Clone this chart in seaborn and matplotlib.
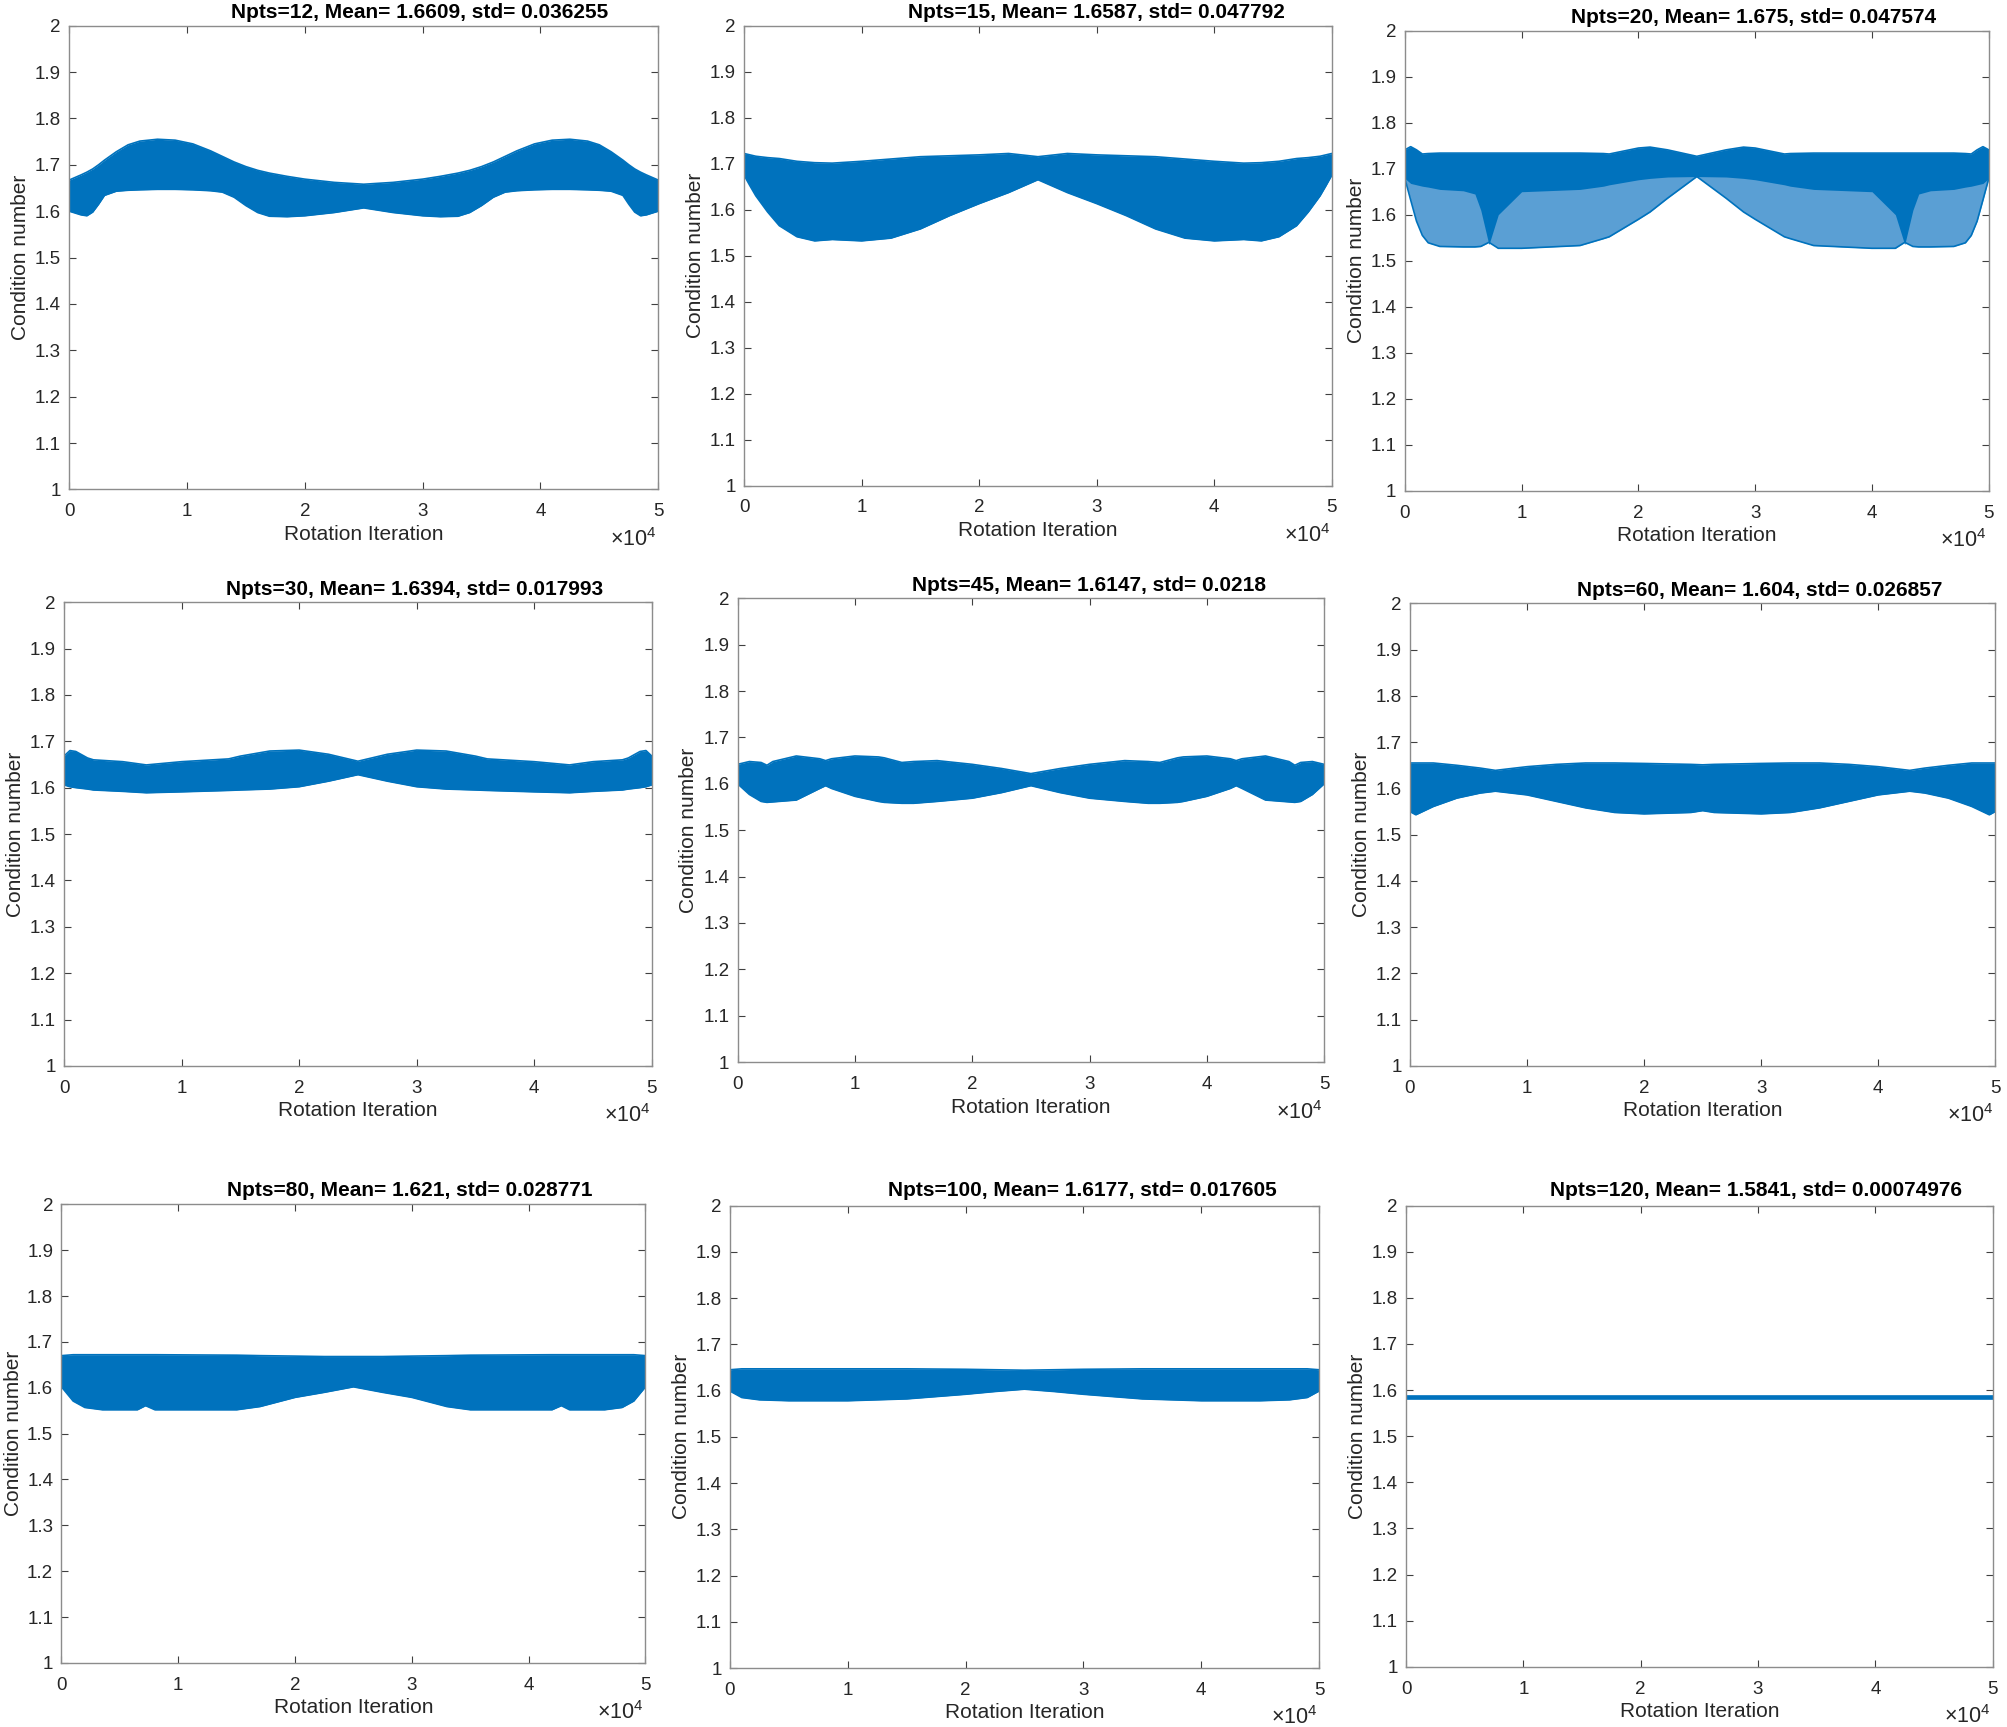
import numpy as np
import pandas as pd
import matplotlib
matplotlib.use("Agg")
import matplotlib.pyplot as plt
import seaborn as sns

# ---- data ---------------------------------------------------------------
npts = [12, 15, 20, 30, 45, 60, 80, 100, 120]
means = ["1.6609", "1.6587", "1.675", "1.6394", "1.6147", "1.604", "1.621", "1.6177", "1.5841"]
stds = ["0.036255", "0.047792", "0.047574", "0.017993", "0.0218", "0.026857",
        "0.028771", "0.017605", "0.00074976"]

# envelope (upper / lower) of the fast oscillating condition number trace
iter_12 = [0, 1000, 1500, 2000, 2500, 3000, 4000, 5000, 6000, 7500, 9000, 10500, 12000, 13000,
           14000, 15000, 16000, 17000, 18500, 20000, 22500, 25000, 27500, 30000, 31500, 33000,
           34000, 35000, 36000, 37000, 38000, 39500, 41000, 42500, 44000, 45000, 46000, 47000,
           47500, 48000, 48500, 49000, 50000]
upper_12 = [1.667, 1.678, 1.684, 1.691, 1.700, 1.710, 1.728, 1.743, 1.751, 1.755, 1.753, 1.745,
            1.730, 1.718, 1.706, 1.696, 1.688, 1.682, 1.675, 1.669, 1.662, 1.658, 1.662, 1.669,
            1.675, 1.682, 1.688, 1.696, 1.706, 1.718, 1.730, 1.745, 1.753, 1.755, 1.751, 1.743,
            1.728, 1.710, 1.700, 1.691, 1.684, 1.678, 1.667]
lower_12 = [1.600, 1.592, 1.590, 1.598, 1.615, 1.634, 1.643, 1.645, 1.646, 1.647, 1.647, 1.646,
            1.644, 1.641, 1.630, 1.612, 1.597, 1.589, 1.588, 1.590, 1.597, 1.607, 1.597, 1.590,
            1.588, 1.589, 1.597, 1.612, 1.630, 1.641, 1.644, 1.646, 1.647, 1.647, 1.646, 1.645,
            1.643, 1.634, 1.615, 1.598, 1.590, 1.592, 1.600]

iter_15 = [0, 500, 1000, 2000, 3000, 4500, 6000, 7500, 10000, 12500, 15000, 17500, 20000, 22500,
           25000, 27500, 30000, 32500, 35000, 37500, 40000, 42500, 44000, 45500, 47000, 48000,
           49000, 49500, 50000]
upper_15 = [1.722, 1.719, 1.716, 1.713, 1.711, 1.705, 1.702, 1.701, 1.705, 1.710, 1.715, 1.717,
            1.719, 1.722, 1.715, 1.722, 1.719, 1.717, 1.715, 1.710, 1.705, 1.701, 1.702, 1.705,
            1.711, 1.713, 1.716, 1.719, 1.722]
lower_15 = [1.675, 1.652, 1.630, 1.595, 1.565, 1.541, 1.532, 1.535, 1.532, 1.538, 1.558, 1.587,
            1.613, 1.637, 1.665, 1.637, 1.613, 1.587, 1.558, 1.538, 1.532, 1.535, 1.532, 1.541,
            1.565, 1.595, 1.630, 1.652, 1.675]

iter_20 = [0, 500, 1000, 1500, 2000, 3000, 5000, 6000, 6500, 7200, 8000, 10000, 15000, 17000,
           17500, 20000, 21000, 22500, 25000, 27500, 29000, 30000, 32500, 33000, 35000, 40000,
           42000, 42800, 43500, 44000, 45000, 47000, 48000, 48500, 49000, 49500, 50000]
upper_20 = [1.741, 1.748, 1.741, 1.732, 1.733, 1.734, 1.734, 1.734, 1.734, 1.734, 1.734, 1.734,
            1.734, 1.733, 1.732, 1.745, 1.747, 1.741, 1.727, 1.741, 1.747, 1.745, 1.732, 1.733,
            1.734, 1.734, 1.734, 1.734, 1.734, 1.734, 1.734, 1.734, 1.733, 1.732, 1.741, 1.748,
            1.741]
lower_20 = [1.679, 1.632, 1.586, 1.555, 1.539, 1.531, 1.530, 1.530, 1.531, 1.540, 1.527, 1.527,
            1.533, 1.548, 1.552, 1.590, 1.606, 1.636, 1.683, 1.636, 1.606, 1.590, 1.552, 1.548,
            1.533, 1.527, 1.527, 1.540, 1.531, 1.530, 1.530, 1.531, 1.539, 1.555, 1.586, 1.632,
            1.679]
# bottom of the solid part; below it the trace is sparse
dense_lo_20 = [1.679, 1.668, 1.665, 1.662, 1.660, 1.655, 1.652, 1.645, 1.610, 1.535, 1.600,
               1.650, 1.655, 1.662, 1.665, 1.676, 1.679, 1.682, 1.683, 1.682, 1.679, 1.676,
               1.665, 1.662, 1.655, 1.650, 1.600, 1.535, 1.610, 1.645, 1.652, 1.655, 1.660,
               1.662, 1.665, 1.668, 1.679]

iter_30 = [0, 500, 1000, 2000, 2500, 5000, 7000, 10000, 14000, 15000, 17500, 20000, 22500, 25000,
           27500, 30000, 32500, 35000, 36000, 40000, 43000, 45000, 47500, 48000, 49000, 49500,
           50000]
upper_30 = [1.668, 1.680, 1.678, 1.664, 1.660, 1.656, 1.649, 1.656, 1.662, 1.668, 1.679, 1.681,
            1.672, 1.657, 1.672, 1.681, 1.679, 1.668, 1.662, 1.656, 1.649, 1.656, 1.660, 1.664,
            1.678, 1.680, 1.668]
lower_30 = [1.606, 1.602, 1.600, 1.597, 1.595, 1.592, 1.589, 1.591, 1.594, 1.595, 1.597, 1.602,
            1.614, 1.628, 1.614, 1.602, 1.597, 1.595, 1.594, 1.591, 1.589, 1.592, 1.595, 1.597,
            1.600, 1.602, 1.606]

iter_45 = [0, 1000, 2000, 2500, 3000, 5000, 7000, 7500, 8000, 10000, 12000, 12500, 14000, 15000,
           17000, 20000, 22500, 25000, 27500, 30000, 33000, 35000, 36000, 37500, 38000, 40000,
           42000, 42500, 43000, 45000, 47000, 47500, 48000, 49000, 50000]
upper_45 = [1.642, 1.648, 1.646, 1.640, 1.648, 1.660, 1.654, 1.650, 1.654, 1.660, 1.658, 1.656,
            1.646, 1.648, 1.650, 1.642, 1.633, 1.622, 1.633, 1.642, 1.650, 1.648, 1.646, 1.656,
            1.658, 1.660, 1.654, 1.650, 1.654, 1.660, 1.648, 1.640, 1.646, 1.648, 1.642]
lower_45 = [1.600, 1.577, 1.562, 1.560, 1.561, 1.565, 1.590, 1.596, 1.590, 1.573, 1.562, 1.560,
            1.558, 1.558, 1.562, 1.569, 1.581, 1.596, 1.581, 1.569, 1.562, 1.558, 1.558, 1.560,
            1.562, 1.573, 1.590, 1.596, 1.590, 1.565, 1.561, 1.560, 1.562, 1.577, 1.600]

iter_60 = [0, 500, 2000, 4000, 6000, 7300, 10000, 12500, 15000, 17500, 20000, 24000, 25000,
           26000, 30000, 32500, 35000, 37500, 40000, 42700, 44000, 46000, 48000, 49500, 50000]
upper_60 = [1.655, 1.655, 1.655, 1.650, 1.644, 1.639, 1.647, 1.652, 1.655, 1.655, 1.654, 1.652,
            1.651, 1.652, 1.654, 1.655, 1.655, 1.652, 1.647, 1.639, 1.644, 1.650, 1.655, 1.655,
            1.655]
lower_60 = [1.550, 1.543, 1.561, 1.579, 1.590, 1.594, 1.586, 1.572, 1.558, 1.548, 1.545, 1.548,
            1.552, 1.548, 1.545, 1.548, 1.558, 1.572, 1.586, 1.594, 1.590, 1.579, 1.561, 1.543,
            1.550]

iter_80 = [0, 1000, 2000, 3500, 6500, 7200, 8000, 15000, 17000, 20000, 22500, 25000, 27500,
           30000, 33000, 35000, 42000, 42800, 43500, 46500, 48000, 49000, 50000]
upper_80 = [1.670, 1.672, 1.672, 1.672, 1.672, 1.672, 1.672, 1.671, 1.670, 1.669, 1.668, 1.668,
            1.668, 1.669, 1.670, 1.671, 1.672, 1.672, 1.672, 1.672, 1.672, 1.672, 1.670]
lower_80 = [1.602, 1.571, 1.557, 1.552, 1.552, 1.561, 1.552, 1.552, 1.559, 1.579, 1.590, 1.602,
            1.590, 1.579, 1.559, 1.552, 1.552, 1.561, 1.552, 1.552, 1.557, 1.571, 1.602]

iter_100 = [0, 1000, 2500, 5000, 10000, 15000, 20000, 22500, 25000, 27500, 30000, 35000, 40000,
            45000, 47500, 49000, 50000]
upper_100 = [1.645, 1.647, 1.647, 1.647, 1.647, 1.647, 1.646, 1.645, 1.644, 1.645, 1.646, 1.647,
             1.647, 1.647, 1.647, 1.647, 1.645]
lower_100 = [1.599, 1.585, 1.580, 1.578, 1.578, 1.582, 1.592, 1.598, 1.603, 1.598, 1.592, 1.582,
             1.578, 1.578, 1.580, 1.585, 1.599]

iter_120 = [0, 25000, 50000]
upper_120 = [1.588, 1.588, 1.588]
lower_120 = [1.581, 1.581, 1.581]

# ---- layout (pixel boxes measured on a 1568 x 1348 view of the figure) --
W, H = 1568.0, 1348.0
# left, right, top, bottom, title centre x, title centre y
boxes = [
    (54, 514, 20, 382, 328, 10), (581, 1040, 20, 379, 856, 10), (1097, 1553, 24, 383, 1369, 14),
    (50, 509, 470, 832, 324, 460), (576, 1034, 467, 829, 850, 457), (1101, 1558, 471, 832, 1374, 461),
    (48, 504, 940, 1298, 320, 929), (570, 1030, 941, 1302, 845, 929), (1098, 1556, 941, 1301, 1371, 929),
]

BLUE = "#0072BD"
LIGHT = "#5a9fd4"

sns.set_theme(style="ticks")
plt.rcParams["font.family"] = ["Liberation Sans", "DejaVu Sans"]
plt.rcParams["mathtext.fontset"] = "custom"
plt.rcParams["mathtext.rm"] = "Liberation Sans"

panels = [
    (iter_12, upper_12, lower_12, None),
    (iter_15, upper_15, lower_15, None),
    (iter_20, upper_20, lower_20, dense_lo_20),
    (iter_30, upper_30, lower_30, None),
    (iter_45, upper_45, lower_45, None),
    (iter_60, upper_60, lower_60, None),
    (iter_80, upper_80, lower_80, None),
    (iter_100, upper_100, lower_100, None),
    (iter_120, upper_120, lower_120, None),
]

fig = plt.figure(figsize=(20.08, 17.27), dpi=100)

yticks = np.round(np.arange(1.0, 2.001, 0.1), 1)

for i, (x, up, lo, dense_lo) in enumerate(panels):
    l, r, t, b, tx, ty = boxes[i]
    ax = fig.add_axes([l / W, 1 - b / H, (r - l) / W, (b - t) / H])
    x = np.asarray(x, dtype=float)
    up = np.asarray(up)
    lo = np.asarray(lo)

    if dense_lo is not None:
        ax.fill_between(x, lo, up, color=LIGHT, lw=0)
        ax.fill_between(x, np.asarray(dense_lo), up, color=BLUE, lw=0)
    else:
        ax.fill_between(x, lo, up, color=BLUE, lw=0)

    df = pd.DataFrame({
        "iteration": np.concatenate([x, x]),
        "cond": np.concatenate([up, lo]),
        "edge": ["upper"] * len(x) + ["lower"] * len(x),
    })
    sns.lineplot(data=df, x="iteration", y="cond", units="edge", estimator=None,
                 color=BLUE, lw=1.2, sort=False, ax=ax)

    ax.set_xlim(0, 50000)
    ax.set_ylim(1, 2)
    ax.set_xticks(np.arange(0, 50001, 10000))
    ax.set_xticklabels([str(k) for k in range(6)])
    ax.set_yticks(yticks)
    ax.set_yticklabels([f"{v:g}" for v in yticks])
    ax.tick_params(direction="in", top=True, right=True, length=5, width=0.8,
                   color="#404040", labelcolor="#262626", labelsize=13.5, pad=6)
    ax.tick_params(axis="x", pad=10)
    for sp in ax.spines.values():
        sp.set_visible(True)
        sp.set_color("#8c8c8c")
        sp.set_linewidth(1.0)

    ax.set_xlabel("Rotation Iteration", fontsize=15, color="#262626", va="center")
    ax.xaxis.set_label_coords(0.5, -0.097)
    ax.set_ylabel("Condition number", fontsize=15, color="#262626", va="center")
    ax.yaxis.set_label_coords(-0.083, 0.5)

    ax.text(0.997, -0.108, "×10$^{4}$", transform=ax.transAxes, ha="right", va="center",
            fontsize=15.5, color="#262626")

    title = f"Npts={npts[i]}, Mean= {means[i]}, std= {stds[i]}"
    ax.text((tx - l) / (r - l), 1 + (t - ty) / (b - t), title, transform=ax.transAxes,
            ha="center", va="center", fontsize=15, fontweight="bold", color="black")

fig.savefig("out.png", dpi=100, facecolor="white")
